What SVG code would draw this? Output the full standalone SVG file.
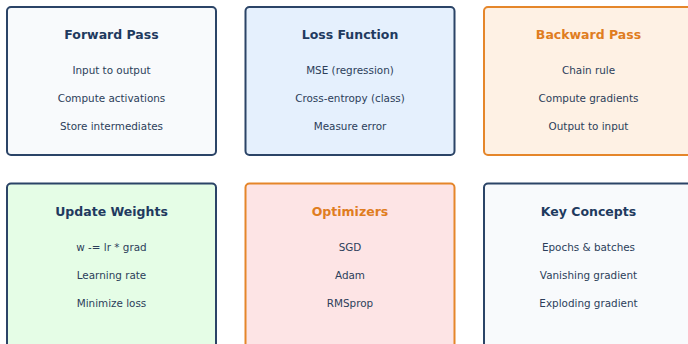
<svg xmlns="http://www.w3.org/2000/svg" width="688" height="344" viewBox="0 0 688 344">
  <style>
    .box { stroke-width: 2; }
    .navy { stroke: #2b4467; }
    .orange { stroke: #e5862a; }
    .title { font-family: "DejaVu Sans", sans-serif; font-size: 12.5px; font-weight: bold; text-anchor: middle; fill: #1f3a5f; }
    .title.warm { fill: #e07d1f; }
    .item { font-family: "DejaVu Sans", sans-serif; font-size: 10.4px; text-anchor: middle; fill: #2c3e5a; }
  </style>
  <rect width="688" height="344" fill="#ffffff"/>

  <g id="forward-pass">
    <rect class="box navy" x="7" y="7" width="209" height="148" rx="4" fill="#f8fafc"/>
    <text class="title" x="111.5" y="39">Forward Pass</text>
    <text class="item" x="111.5" y="74">Input to output</text>
    <text class="item" x="111.5" y="102">Compute activations</text>
    <text class="item" x="111.5" y="130">Store intermediates</text>
  </g>

  <g id="loss-function">
    <rect class="box navy" x="245.5" y="7" width="209" height="148" rx="4" fill="#e5f0fd"/>
    <text class="title" x="350" y="39">Loss Function</text>
    <text class="item" x="350" y="74">MSE (regression)</text>
    <text class="item" x="350" y="102">Cross-entropy (class)</text>
    <text class="item" x="350" y="130">Measure error</text>
  </g>

  <g id="backward-pass">
    <rect class="box orange" x="484" y="7" width="209" height="148" rx="4" fill="#fef1e4"/>
    <text class="title warm" x="588.5" y="39">Backward Pass</text>
    <text class="item" x="588.5" y="74">Chain rule</text>
    <text class="item" x="588.5" y="102">Compute gradients</text>
    <text class="item" x="588.5" y="130">Output to input</text>
  </g>

  <g id="update-weights">
    <rect class="box navy" x="7" y="183.5" width="209" height="170" rx="4" fill="#e5fde6"/>
    <text class="title" x="111.5" y="215.5">Update Weights</text>
    <text class="item" x="111.5" y="250.5">w -= lr * grad</text>
    <text class="item" x="111.5" y="278.5">Learning rate</text>
    <text class="item" x="111.5" y="306.5">Minimize loss</text>
  </g>

  <g id="optimizers">
    <rect class="box orange" x="245.5" y="183.5" width="209" height="170" rx="4" fill="#fde4e5"/>
    <text class="title warm" x="350" y="215.5">Optimizers</text>
    <text class="item" x="350" y="250.5">SGD</text>
    <text class="item" x="350" y="278.5">Adam</text>
    <text class="item" x="350" y="306.5">RMSprop</text>
  </g>

  <g id="key-concepts">
    <rect class="box navy" x="484" y="183.5" width="209" height="170" rx="4" fill="#f8fafc"/>
    <text class="title" x="588.5" y="215.5">Key Concepts</text>
    <text class="item" x="588.5" y="250.5">Epochs &amp; batches</text>
    <text class="item" x="588.5" y="278.5">Vanishing gradient</text>
    <text class="item" x="588.5" y="306.5">Exploding gradient</text>
  </g>

  <g id="connectors"></g>
</svg>
